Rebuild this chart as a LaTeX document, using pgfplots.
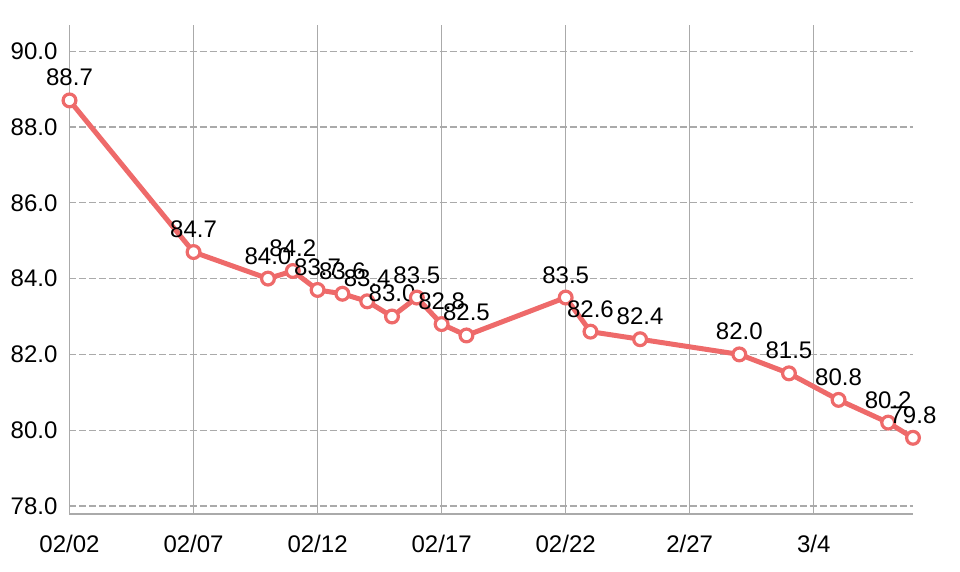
\documentclass[border=0pt]{standalone}
\usepackage{fontspec}
\setmainfont{Liberation Sans}
\usepackage{pgfplots}
\pgfplotsset{compat=1.18}
\definecolor{linered}{HTML}{EE6A6A}
\definecolor{gridgray}{HTML}{AAAAAA}

\pgfplotstableread{
day weight
0  88.7
5  84.7
8  84.0
9  84.2
10 83.7
11 83.6
12 83.4
13 83.0
14 83.5
15 82.8
16 82.5
20 83.5
21 82.6
23 82.4
27 82.0
29 81.5
31 80.8
33 80.2
34 79.8
}\weights

\begin{document}
\begin{tikzpicture}
\path[use as bounding box] (0,0) rectangle (480pt,286pt);
\begin{axis}[
    at={(34.75pt,29pt)}, anchor=south west,
    scale only axis,
    width=421.75pt, height=244.5pt,
    xmin=0, xmax=34,
    ymin=77.79, ymax=90.69,
    axis x line*=bottom, axis y line*=left,
    axis line style={gridgray, line width=0.6pt, -},
    major tick length=0pt,
    xtick={0,5,10,15,20,25,30},
    xticklabels={02/02,02/07,02/12,02/17,02/22,2/27,3/4},
    ytick={78,80,82,84,86,88,90},
    yticklabel={\pgfmathprintnumber[fixed,fixed zerofill,precision=1]{\tick}},
    /pgf/number format/assume math mode=true,
    tick label style={font=\fontsize{12}{14}\selectfont, black},
    yticklabel style={xshift=-2.5pt},
    xticklabel style={yshift=-7pt},
    xmajorgrids, ymajorgrids,
    x grid style={gridgray, line width=0.6pt},
    y grid style={gridgray, line width=0.6pt, dash pattern=on 3.5pt off 1.5pt},
    clip=false,
    nodes near coords,
    nodes near coords style={font=\fontsize{12}{14}\selectfont, black, yshift=3pt,
        /pgf/number format/.cd, fixed, fixed zerofill, precision=1, assume math mode=true},
]
\addplot[linered, line width=2.5pt, mark=*, mark size=3.2pt,
    mark options={fill=white, draw=linered, line width=1.6pt}]
    table[x=day, y=weight] {\weights};
\end{axis}
\end{tikzpicture}
\end{document}
